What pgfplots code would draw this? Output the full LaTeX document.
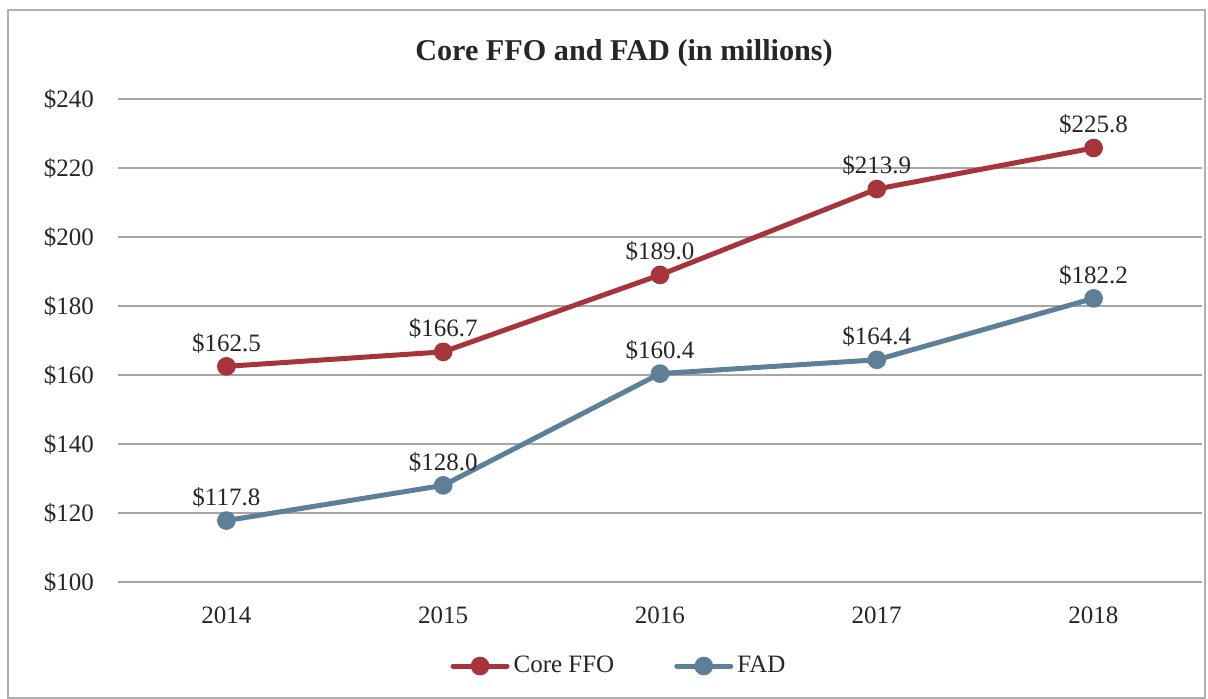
\documentclass[border=0pt]{standalone}
\usepackage{fontspec}
\setmainfont{Liberation Serif}
\usepackage{pgfplots}
\pgfplotsset{compat=1.18}
\definecolor{ffored}{HTML}{A6343A}
\definecolor{fadblue}{HTML}{5B8098}
\definecolor{gridgray}{HTML}{A6A6A6}
\definecolor{txt}{HTML}{262626}

\begin{document}
\begin{tikzpicture}
\useasboundingbox (0pt,0pt) rectangle (604pt,349.5pt);
\draw[gridgray!90,line width=0.7pt] (4pt,0.5pt) rectangle (602.5pt,344.5pt);
\node[font=\fontsize{15.1}{17}\selectfont\bfseries,text=txt] at (312pt,323pt) {Core FFO and FAD (in millions)};
\begin{axis}[
  at={(59pt,58.5pt)}, anchor=south west,
  scale only axis, width=542pt, height=241.5pt,
  xmin=2013.5, xmax=2018.5, ymin=100, ymax=240,
  xtick={2014,...,2018}, ytick={100,120,...,240},
  xticklabel style={/pgf/number format/1000 sep={}},
  /pgf/number format/assume math mode=true,
  yticklabel={\$\pgfmathprintnumber{\tick}},
  ymajorgrids, grid style={gridgray,line width=0.6pt},
  axis line style={draw=none}, major tick length=0pt,
  tick label style={font=\fontsize{12.5}{14}\selectfont,text=txt},
  yticklabel style={xshift=-8.5pt},
  xticklabel style={yshift=-9pt},
  nodes near coords={\$\pgfmathprintnumber[fixed,fixed zerofill,precision=1]{\pgfplotspointmeta}},
  every node near coord/.append style={font=\fontsize{12.5}{14}\selectfont,text=txt,yshift=2pt},
  legend columns=2,
  legend style={at={(0.5,-0.174)},anchor=center,xshift=-20pt,draw=none,fill=none,
    font=\fontsize{12.5}{14}\selectfont,text=txt,
    /tikz/every even column/.append style={column sep=28pt}},
  legend image code/.code={
    \draw[#1,line cap=round] (0pt,0pt) -- (27pt,0pt);
    \fill[#1] (13.5pt,0pt) circle (3.4pt);},
]
\addplot[ffored,line width=2.5pt,mark=*,mark size=3.4pt] coordinates {
  (2014,162.5) (2015,166.7) (2016,189.0) (2017,213.9) (2018,225.8)};
\addlegendentry{Core FFO}
\addplot[fadblue,line width=2.5pt,mark=*,mark size=3.4pt] coordinates {
  (2014,117.8) (2015,128.0) (2016,160.4) (2017,164.4) (2018,182.2)};
\addlegendentry{FAD}
\end{axis}
\end{tikzpicture}
\end{document}
